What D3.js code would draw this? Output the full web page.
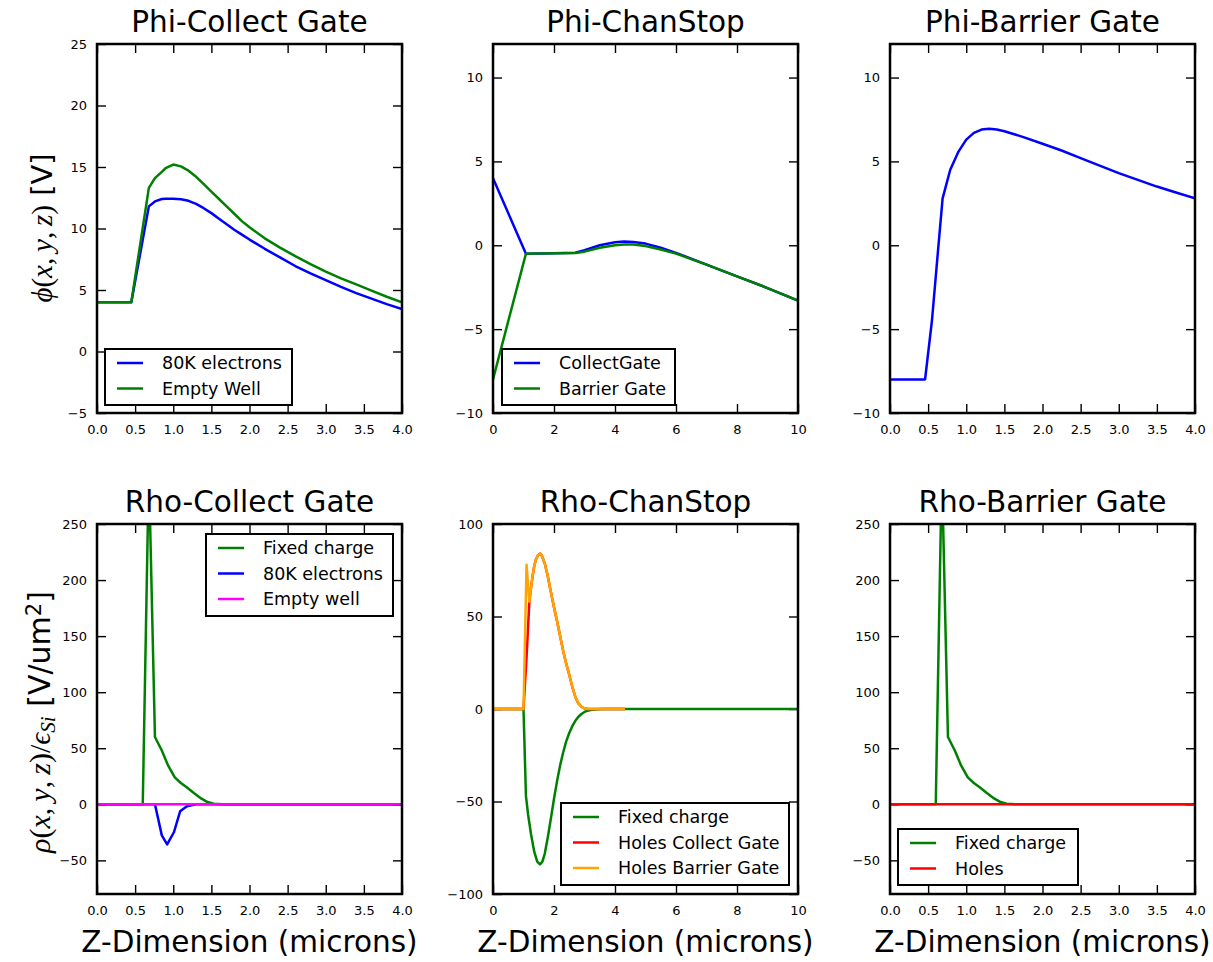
<!DOCTYPE html>
<html>
<head>
<meta charset="utf-8">
<script src="https://cdn.jsdelivr.net/npm/d3@7"></script>
<style>
  body { margin: 0; background: #fff; }
  svg { font-family: "DejaVu Sans", sans-serif; }
</style>
</head>
<body>
<svg id="chart" width="1213" height="962"></svg>
<script>
// ----------------------------------------------------------------------------
// Data (z in microns)
// ----------------------------------------------------------------------------

// Phi-Collect Gate
const phiCollectZ = [0, 0.45, 0.68, 0.76, 0.85, 0.9, 1.0, 1.1, 1.2, 1.3, 1.4, 1.5, 1.6, 1.7, 1.8, 1.9, 2.0,
  2.2, 2.4, 2.6, 2.8, 3.0, 3.2, 3.4, 3.6, 3.8, 4.0];
const phiCollectElectrons = [4, 4, 11.8, 12.2, 12.4, 12.42, 12.42, 12.38, 12.25, 12.0, 11.65, 11.25, 10.8, 10.35, 9.9, 9.5, 9.1,
  8.35, 7.65, 6.95, 6.35, 5.8, 5.25, 4.75, 4.3, 3.85, 3.45];
const phiCollectEmpty = [4, 4, 13.3, 14.1, 14.6, 14.9, 15.2, 15.05, 14.7, 14.2, 13.6, 13.0, 12.4, 11.8, 11.2, 10.6, 10.1,
  9.2, 8.45, 7.75, 7.1, 6.5, 5.95, 5.45, 4.95, 4.45, 4.0];

// Phi-ChanStop
const phiChanZ = [0, 1.08, 2.0, 2.7, 3.0, 3.5, 4.0, 4.3, 4.6, 5.0, 5.5, 6, 7, 8, 9, 10];
const phiChanCollect = [4, -0.5, -0.48, -0.45, -0.3, 0.0, 0.18, 0.22, 0.2, 0.1, -0.15, -0.45, -1.15, -1.85, -2.55, -3.3];
const phiChanBarrier = [-8, -0.5, -0.48, -0.46, -0.38, -0.15, 0.0, 0.05, 0.04, -0.05, -0.25, -0.5, -1.15, -1.85, -2.55, -3.3];

// Phi-Barrier Gate
const phiBarrierZ = [0, 0.46, 0.55, 0.63, 0.69, 0.79, 0.9, 1.0, 1.1, 1.2, 1.3, 1.4, 1.5, 1.75, 2.0, 2.25, 2.5, 2.75, 3.0, 3.25, 3.5, 3.75, 4.0];
const phiBarrierVals = [-8, -8, -4.5, -0.3, 2.8, 4.5, 5.6, 6.3, 6.7, 6.9, 6.95, 6.9, 6.8, 6.45, 6.05, 5.65, 5.2, 4.75, 4.3, 3.9, 3.5, 3.15, 2.8];

// Rho-Collect Gate / Rho-Barrier Gate
const rhoGateZ = [0, 0.6, 0.68, 0.76, 0.85, 0.93, 1.02, 1.1, 1.18, 1.27, 1.37, 1.45, 1.53, 1.65, 4.0];
const rhoFixedCharge = [0, 0, 300, 60, 48, 35, 24, 19, 15, 10, 5, 2, 0.6, 0, 0];
const rhoElecZ = [0, 0.76, 0.85, 0.92, 1.01, 1.09, 1.18, 1.3, 4.0];
const rhoElectrons = [0, 0, -27.7, -35.7, -24.7, -6.3, -1.8, 0, 0];
const rhoFlatZ = [0, 4.0];
const rhoEmptyWell = [0, 0];
const rhoBarrierHoles = [0, 0];

// Rho-ChanStop
const rhoChanFixedZ = [0, 1.0, 1.08, 1.15, 1.25, 1.35, 1.45, 1.54, 1.62, 1.7, 1.8, 1.9, 2.0, 2.1, 2.2, 2.3, 2.4,
  2.5, 2.6, 2.7, 2.8, 2.9, 3.0, 3.1, 3.2, 3.4, 3.6, 10];
const rhoChanFixed = [0, 0, -47, -57, -68, -77, -82.5, -84, -82.5, -78, -69, -59, -48.5, -39, -30.5, -23.5, -17.5,
  -13, -9.3, -6.4, -4.2, -2.7, -1.6, -0.9, -0.5, -0.1, 0, 0];
const rhoChanHolesZ = [0, 1.0, 1.1, 1.19, 1.25, 1.3, 1.35, 1.4, 1.47, 1.54, 1.6, 1.7, 1.8, 1.9, 2.0, 2.1, 2.2,
  2.3, 2.4, 2.5, 2.6, 2.7, 2.8, 2.9, 3.0, 3.1, 4.33];
const rhoChanHolesCollect = [0, 0, 28, 57.5, 66, 72, 77, 80.5, 83, 84, 83, 78.5, 71.5, 63, 55, 47.5, 39.5,
  31.5, 24.5, 18.5, 12, 6.5, 3, 1.2, 0.4, 0, 0];
const rhoChanHolesBarrier = [0, 0, 78, 58, 66, 72, 77, 80.5, 83, 84, 83, 78.5, 71.5, 63, 55, 47.5, 39.5,
  31.5, 24.5, 18.5, 12, 6.5, 3, 1.2, 0.4, 0, 0];

// Tick values
const gateXTicks = [0, 0.5, 1.0, 1.5, 2.0, 2.5, 3.0, 3.5, 4.0];
const chanXTicks = [0, 2, 4, 6, 8, 10];
const phiCollectYTicks = [-5, 0, 5, 10, 15, 20, 25];
const phiYTicks = [-10, -5, 0, 5, 10];
const rhoGateYTicks = [-50, 0, 50, 100, 150, 200, 250];
const rhoChanYTicks = [-100, -50, 0, 50, 100];

// ----------------------------------------------------------------------------
// Panel setup
// ----------------------------------------------------------------------------

const svg = d3.select('#chart');
const cols = [[97, 402], [493, 798], [890, 1195]];
const rows = [[44, 413], [524, 894]];

const zip = (xs, ys) => xs.map((x, i) => [x, ys[i]]);

const panels = [
  { col: 0, row: 0, title: 'Phi-Collect Gate', xDomain: [0, 4], yDomain: [-5, 25],
    xTicks: gateXTicks, yTicks: phiCollectYTicks, xFmt: d3.format('.1f'),
    series: [
      { name: '80K electrons', color: '#0000ff', pts: zip(phiCollectZ, phiCollectElectrons) },
      { name: 'Empty Well', color: '#008000', pts: zip(phiCollectZ, phiCollectEmpty) }],
    legend: { x: 105, y: 349, w: 187, h: 56 } },
  { col: 1, row: 0, title: 'Phi-ChanStop', xDomain: [0, 10], yDomain: [-10, 12],
    xTicks: chanXTicks, yTicks: phiYTicks, xFmt: d3.format('d'),
    series: [
      { name: 'CollectGate', color: '#0000ff', pts: zip(phiChanZ, phiChanCollect) },
      { name: 'Barrier Gate', color: '#008000', pts: zip(phiChanZ, phiChanBarrier) }],
    legend: { x: 502, y: 349, w: 173, h: 56 } },
  { col: 2, row: 0, title: 'Phi-Barrier Gate', xDomain: [0, 4], yDomain: [-10, 12],
    xTicks: gateXTicks, yTicks: phiYTicks, xFmt: d3.format('.1f'),
    series: [
      { name: null, color: '#0000ff', pts: zip(phiBarrierZ, phiBarrierVals) }],
    legend: null },
  { col: 0, row: 1, title: 'Rho-Collect Gate', xDomain: [0, 4], yDomain: [-80, 250],
    xTicks: gateXTicks, yTicks: rhoGateYTicks, xFmt: d3.format('.1f'),
    series: [
      { name: 'Fixed charge', color: '#008000', pts: zip(rhoGateZ, rhoFixedCharge) },
      { name: '80K electrons', color: '#0000ff', pts: zip(rhoElecZ, rhoElectrons) },
      { name: 'Empty well', color: '#ff00ff', pts: zip(rhoFlatZ, rhoEmptyWell) }],
    legend: { x: 206, y: 534, w: 187, h: 82 } },
  { col: 1, row: 1, title: 'Rho-ChanStop', xDomain: [0, 10], yDomain: [-100, 100],
    xTicks: chanXTicks, yTicks: rhoChanYTicks, xFmt: d3.format('d'),
    series: [
      { name: 'Fixed charge', color: '#008000', pts: zip(rhoChanFixedZ, rhoChanFixed) },
      { name: 'Holes Collect Gate', color: '#ff0000', pts: zip(rhoChanHolesZ, rhoChanHolesCollect) },
      { name: 'Holes Barrier Gate', color: '#ffa500', pts: zip(rhoChanHolesZ, rhoChanHolesBarrier) }],
    legend: { x: 561, y: 803, w: 228, h: 82 } },
  { col: 2, row: 1, title: 'Rho-Barrier Gate', xDomain: [0, 4], yDomain: [-80, 250],
    xTicks: gateXTicks, yTicks: rhoGateYTicks, xFmt: d3.format('.1f'),
    series: [
      { name: 'Fixed charge', color: '#008000', pts: zip(rhoGateZ, rhoFixedCharge) },
      { name: 'Holes', color: '#ff0000', pts: zip(rhoFlatZ, rhoBarrierHoles) }],
    legend: { x: 898, y: 829, w: 180, h: 56 } },
];

// ----------------------------------------------------------------------------
// Drawing
// ----------------------------------------------------------------------------

const drawPanel = (p, idx) => {
  const [x0, x1] = cols[p.col];
  const [y0, y1] = rows[p.row];
  const xScale = d3.scaleLinear().domain(p.xDomain).range([x0, x1]);
  const yScale = d3.scaleLinear().domain(p.yDomain).range([y1, y0]);
  const g = svg.append('g');

  g.append('clipPath').attr('id', `clip${idx}`)
    .append('rect').attr('x', x0).attr('y', y0).attr('width', x1 - x0).attr('height', y1 - y0);

  // axes, ticks inward on all four sides
  const styleAxis = (sel) => {
    sel.select('.domain').remove();
    sel.selectAll('.tick line').attr('stroke', '#000').attr('stroke-width', 1.4);
    sel.selectAll('.tick text').attr('fill', '#000').style('font-size', '13px')
      .style('font-family', '"DejaVu Sans", sans-serif');
  };

  g.append('g').attr('transform', `translate(0,${y1})`)
    .call(d3.axisBottom(xScale).tickValues(p.xTicks).tickFormat(p.xFmt)
      .tickSizeInner(-9).tickSizeOuter(0).tickPadding(12))
    .call(styleAxis);
  g.append('g').attr('transform', `translate(0,${y0})`)
    .call(d3.axisTop(xScale).tickValues(p.xTicks).tickFormat('')
      .tickSizeInner(-9).tickSizeOuter(0))
    .call(styleAxis);
  g.append('g').attr('transform', `translate(${x0},0)`)
    .call(d3.axisLeft(yScale).tickValues(p.yTicks).tickFormat(d3.format('d'))
      .tickSizeInner(-9).tickSizeOuter(0).tickPadding(10))
    .call(styleAxis);
  g.append('g').attr('transform', `translate(${x1},0)`)
    .call(d3.axisRight(yScale).tickValues(p.yTicks).tickFormat('')
      .tickSizeInner(-9).tickSizeOuter(0))
    .call(styleAxis);

  const line = d3.line()
    .x(d => xScale(d[0]))
    .y(d => yScale(d[1]));

  const lines = g.append('g').attr('clip-path', `url(#clip${idx})`);
  p.series.forEach(s => {
    lines.append('path')
      .attr('d', line(s.pts))
      .attr('fill', 'none')
      .attr('stroke', s.color)
      .attr('stroke-width', 2.5)
      .attr('stroke-linejoin', 'round');
  });

  g.append('rect')
    .attr('x', x0).attr('y', y0).attr('width', x1 - x0).attr('height', y1 - y0)
    .attr('fill', 'none').attr('stroke', '#000').attr('stroke-width', 2.5);

  // title
  g.append('text')
    .attr('x', (x0 + x1) / 2).attr('y', y0 - 12)
    .attr('text-anchor', 'middle')
    .style('font-size', '29.5px')
    .text(p.title);

  // x label on the bottom row
  if (p.row == 1) {
    g.append('text')
      .attr('x', (x0 + x1) / 2).attr('y', 952)
      .attr('text-anchor', 'middle')
      .style('font-size', '29.5px')
      .text('Z-Dimension (microns)');
  }

  // legend
  if (p.legend) {
    const L = p.legend;
    const lg = g.append('g');
    lg.append('rect')
      .attr('x', L.x).attr('y', L.y).attr('width', L.w).attr('height', L.h)
      .attr('fill', '#fff').attr('stroke', '#000').attr('stroke-width', 2);
    p.series.filter(s => s.name).forEach((s, i) => {
      const cy = L.y + 14 + i * 25.5;
      lg.append('line')
        .attr('x1', L.x + 12).attr('x2', L.x + 38)
        .attr('y1', cy).attr('y2', cy)
        .attr('stroke', s.color).attr('stroke-width', 2.5);
      lg.append('text')
        .attr('x', L.x + 57).attr('y', cy + 6)
        .style('font-size', '17.5px')
        .text(s.name);
    });
  }
}

panels.forEach(drawPanel);

// ----------------------------------------------------------------------------
// y labels (math parts in an italic serif)
// ----------------------------------------------------------------------------

const mathFont = '"Liberation Serif", "DejaVu Serif", serif';

const addLabel = (cx, cy, size, parts) => {
  const t = svg.append('text')
    .attr('transform', `translate(${cx},${cy}) rotate(-90)`)
    .attr('text-anchor', 'middle')
    .style('font-size', size);
  parts.forEach(p => {
    const ts = t.append('tspan').text(p.t);
    if (p.m) ts.style('font-family', mathFont);
    if (p.i) ts.style('font-style', 'italic');
    if (p.size) ts.style('font-size', p.size);
    if (p.shift) ts.attr('baseline-shift', p.shift);
  });
}

addLabel(52, 228, '29px', [
  { t: 'ϕ', m: 1, i: 1 }, { t: '(', m: 1 }, { t: 'x', m: 1, i: 1 }, { t: ',\u2009', m: 1 },
  { t: 'y', m: 1, i: 1 }, { t: ',\u2009', m: 1 }, { t: 'z', m: 1, i: 1 }, { t: ')', m: 1 },
  { t: ' [V]' }
]);

addLabel(50, 722, '30px', [
  { t: 'ρ', m: 1, i: 1 }, { t: '(', m: 1 }, { t: 'x', m: 1, i: 1 }, { t: ',\u2009', m: 1 },
  { t: 'y', m: 1, i: 1 }, { t: ',\u2009', m: 1 }, { t: 'z', m: 1, i: 1 }, { t: ')', m: 1 },
  { t: '/', m: 1 }, { t: 'ϵ', m: 1, i: 1 }, { t: 'Si', m: 1, i: 1, size: '21px', shift: '-25%' },
  { t: ' [V/um' }, { t: '2', size: '21px', shift: '45%' }, { t: ']' }
]);
</script>
</body>
</html>
